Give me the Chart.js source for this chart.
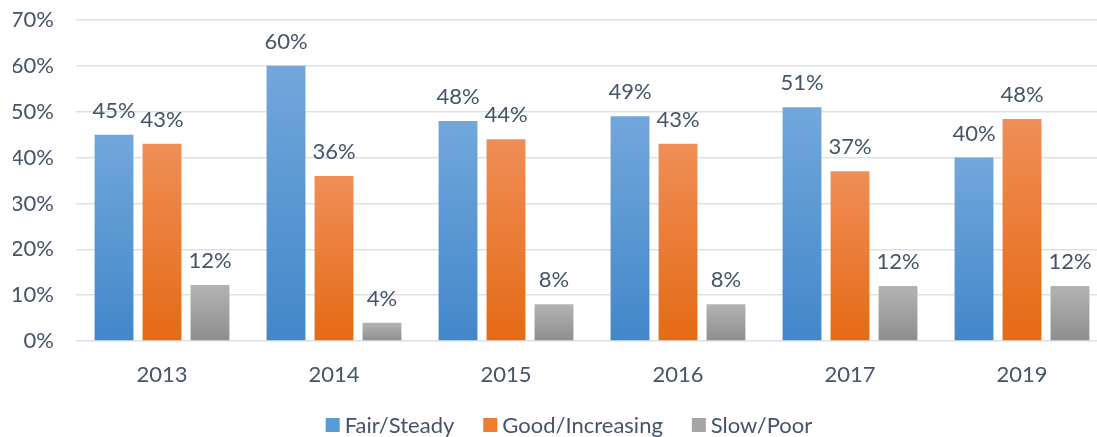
<html>
<head>
  <title></title>
  <style>
    body { margin: 0; overflow: hidden; background: #fff; }
    #wrap { width: 1108px; height: 437px; }
  </style>
</head>
<body>
<div id="wrap">
  <canvas id="myChart"></canvas>
</div>

<script src="https://cdn.jsdelivr.net/npm/chart.js"></script>

<script>
  const years = ['2013', '2014', '2015', '2016', '2017', '2019']
  const fairSteady = [45, 60, 48, 49, 51, 40]
  const goodIncreasing = [43, 36, 44, 43, 37, 48.4]
  const slowPoor = [12.2, 4, 8, 8, 12, 12]
  const yTicks = [0, 10, 20, 30, 40, 50, 60, 70]

  const textColor = '#44546A'
  const fontFamily = 'Lato'
  const fontSize = 22

  // per-bar vertical gradient, like the excel fill
  function barFill(top, bottom) {
    return (c) => {
      const chart = c.chart
      if (!chart.chartArea || c.raw == null) return bottom
      const y = chart.scales.y
      const g = chart.ctx.createLinearGradient(0, y.getPixelForValue(c.raw), 0, y.getPixelForValue(0))
      g.addColorStop(0, top)
      g.addColorStop(1, bottom)
      return g
    }
  }

  const valueLabels = {
    id: 'valueLabels',
    afterDatasetsDraw(chart) {
      const ctx = chart.ctx
      ctx.save()
      ctx.font = fontSize + 'px ' + fontFamily
      ctx.fillStyle = textColor
      ctx.textAlign = 'center'
      ctx.textBaseline = 'middle'
      chart.data.datasets.forEach((ds, i) => {
        chart.getDatasetMeta(i).data.forEach((bar, j) => {
          ctx.fillText(Math.round(ds.data[j]) + '%', bar.x, bar.y - 24)
        })
      })
      ctx.restore()
    }
  }

  // legend drawn by hand so box/text spacing matches the excel one
  const bottomLegend = {
    id: 'bottomLegend',
    afterDraw(chart) {
      const ctx = chart.ctx
      const box = 14, gapText = 5, gapItem = 29, cy = 425
      ctx.save()
      ctx.font = fontSize + 'px ' + fontFamily
      ctx.textBaseline = 'middle'
      const items = chart.data.datasets.map((ds, i) => ({
        text: ds.label,
        color: ds.legendColor,
        w: box + gapText + ctx.measureText(ds.label).width
      }))
      const total = items.reduce((s, it) => s + it.w, 0) + gapItem * (items.length - 1)
      let x = 569 - total / 2
      items.forEach(it => {
        ctx.fillStyle = it.color
        ctx.fillRect(x, cy - box / 2, box, box)
        ctx.fillStyle = textColor
        ctx.fillText(it.text, x + box + gapText, cy + 1)
        x += it.w + gapItem
      })
      ctx.restore()
    }
  }

  const ctx = document.getElementById('myChart')
  new Chart(ctx, {
    type: 'bar',
    data: {
      labels: years,
      datasets: [
        { label: 'Fair/Steady', data: fairSteady, backgroundColor: barFill('#72A7DC', '#4287CA'), legendColor: '#5B9BD5' },
        { label: 'Good/Increasing', data: goodIncreasing, backgroundColor: barFill('#F08E56', '#E46A15'), legendColor: '#ED7D31' },
        { label: 'Slow/Poor', data: slowPoor, backgroundColor: barFill('#B3B3B3', '#8E8E8E'), legendColor: '#A5A5A5' }
      ]
    },
    plugins: [valueLabels, bottomLegend],
    options: {
      responsive: true,
      maintainAspectRatio: false,
      animation: false,
      categoryPercentage: 0.837,
      barPercentage: 0.81,
      layout: { autoPadding: false, padding: { top: 20, left: 13, right: 0, bottom: 48 } },
      plugins: {
        tooltip: { enabled: false },
        legend: { display: false }
      },
      scales: {
        x: {
          grid: { display: false, drawTicks: false },
          border: { display: false },
          ticks: { color: textColor, padding: 21, font: { family: fontFamily, size: fontSize } },
          afterFit: (axis) => { axis.height = 48; axis.paddingLeft = 0; axis.paddingRight = 0 }
        },
        y: {
          min: 0,
          max: 70,
          afterBuildTicks: (axis) => { axis.ticks = yTicks.map(v => ({ value: v })) },
          grid: { color: '#DDE1E6', lineWidth: 1.5, drawTicks: false },
          border: { display: false },
          ticks: { color: textColor, padding: 22, font: { family: fontFamily, size: fontSize }, callback: v => v + '%' },
          afterFit: (axis) => { axis.width = 63; axis.paddingTop = 0; axis.paddingBottom = 0 }
        }
      }
    }
  });
</script>
</body>
</html>
